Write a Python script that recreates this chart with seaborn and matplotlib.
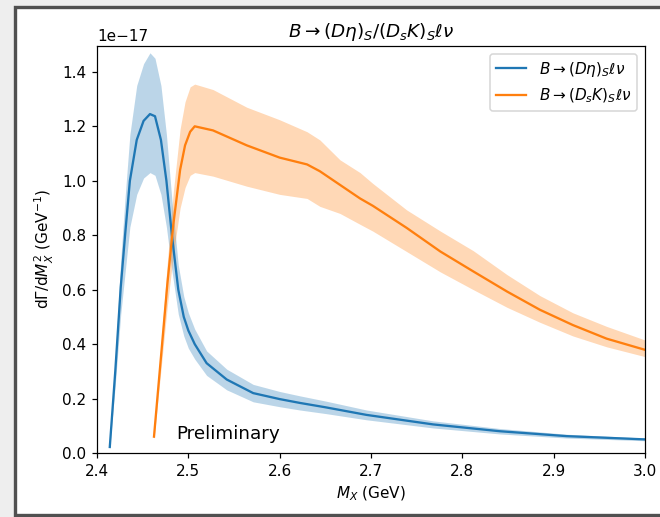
import numpy as np
import pandas as pd
import matplotlib
matplotlib.use("Agg")
import matplotlib.pyplot as plt
from matplotlib.patches import Rectangle
import seaborn as sns

SCALE = 1e-17

# B -> (D eta)_S l nu   (values in units of 1e-17)
deta_x = [2.414, 2.420, 2.426, 2.431, 2.436, 2.4435, 2.451, 2.458, 2.4635, 2.470,
          2.476, 2.482, 2.489, 2.495, 2.500, 2.507, 2.520, 2.542, 2.571, 2.600,
          2.622, 2.650, 2.695, 2.768, 2.841, 2.914, 3.000]
deta_y = [0.022, 0.30, 0.61, 0.81, 1.00, 1.15, 1.22, 1.245, 1.237, 1.15,
          1.00, 0.80, 0.60, 0.50, 0.45, 0.40, 0.33, 0.27, 0.22, 0.198,
          0.184, 0.168, 0.140, 0.105, 0.080, 0.062, 0.050]
deta_lo = [0.018, 0.25, 0.51, 0.67, 0.83, 0.95, 1.01, 1.03, 1.02, 0.95,
           0.83, 0.67, 0.51, 0.43, 0.385, 0.345, 0.285, 0.232, 0.188, 0.170,
           0.158, 0.145, 0.122, 0.092, 0.070, 0.055, 0.045]
deta_hi = [0.026, 0.35, 0.71, 0.95, 1.17, 1.35, 1.43, 1.47, 1.45, 1.35,
           1.17, 0.93, 0.69, 0.575, 0.515, 0.455, 0.375, 0.308, 0.252, 0.226,
           0.210, 0.191, 0.158, 0.118, 0.090, 0.069, 0.055]

# B -> (D_s K)_S l nu
dsk_x = [2.4624, 2.477, 2.4836, 2.491, 2.4964, 2.502, 2.507, 2.527, 2.564, 2.600,
         2.630, 2.644, 2.666, 2.688, 2.702, 2.739, 2.776, 2.812, 2.849, 2.885,
         2.921, 2.958, 3.000]
dsk_y = [0.06, 0.62, 0.84, 1.04, 1.13, 1.18, 1.20, 1.185, 1.13, 1.085,
         1.06, 1.035, 0.985, 0.935, 0.908, 0.827, 0.74, 0.667, 0.593, 0.526,
         0.47, 0.42, 0.379]
dsk_lo = [0.05, 0.54, 0.73, 0.90, 0.975, 1.02, 1.03, 1.017, 0.98, 0.95,
          0.935, 0.906, 0.88, 0.84, 0.815, 0.74, 0.665, 0.60, 0.535, 0.48,
          0.43, 0.39, 0.354]
dsk_hi = [0.07, 0.70, 0.96, 1.19, 1.29, 1.345, 1.355, 1.335, 1.27, 1.224,
          1.18, 1.15, 1.077, 1.03, 0.99, 0.893, 0.815, 0.743, 0.655, 0.578,
          0.515, 0.465, 0.415]

labels = [r"$B\to(D\eta)_S\ell\nu$", r"$B\to(D_sK)_S\ell\nu$"]
colors = ["#1f77b4", "#ff7f0e"]

fig = plt.figure(figsize=(6.0, 4.7), dpi=110)
fig.patch.set_facecolor("#eeeeee")
frame = Rectangle((15.5 / 660, 2.5 / 517), 1.2, (514.5 - 8.5) / 517 + 0.002,
                  transform=fig.transFigure, facecolor="white",
                  edgecolor="#505050", linewidth=2.2, zorder=-10)
fig.patches.append(frame)

ax = fig.add_axes([97 / 660, 1 - 453 / 517, (645 - 97) / 660, (453 - 46) / 517])

df1 = pd.DataFrame({"x": deta_x, "y": np.array(deta_y) * SCALE})
df2 = pd.DataFrame({"x": dsk_x, "y": np.array(dsk_y) * SCALE})

sns.lineplot(data=df1, x="x", y="y", ax=ax, color=colors[0], label=labels[0])
ax.fill_between(deta_x, np.array(deta_lo) * SCALE, np.array(deta_hi) * SCALE,
                color=colors[0], alpha=0.3, linewidth=0)
sns.lineplot(data=df2, x="x", y="y", ax=ax, color=colors[1], label=labels[1])
ax.fill_between(dsk_x, np.array(dsk_lo) * SCALE, np.array(dsk_hi) * SCALE,
                color=colors[1], alpha=0.3, linewidth=0)

ax.set_xlim(2.4, 3.0)
ax.set_ylim(0, 1.495 * SCALE)
ax.set_xticks([2.4, 2.5, 2.6, 2.7, 2.8, 2.9, 3.0])
ax.set_yticks(np.array([0.0, 0.2, 0.4, 0.6, 0.8, 1.0, 1.2, 1.4]) * SCALE)
ax.set_xlabel(r"$M_X$ (GeV)")
ax.set_ylabel(r"d$\Gamma$/d$M_X^2$ (GeV$^{-1}$)")
ax.set_title(r"$B\to(D\eta)_S/(D_sK)_S\ell\nu$")
ax.text(2.4865, 0.05 * SCALE, "Preliminary", fontsize=12)
ax.legend(loc="upper right")

fig.savefig("out.png", dpi=110, facecolor=fig.get_facecolor())
